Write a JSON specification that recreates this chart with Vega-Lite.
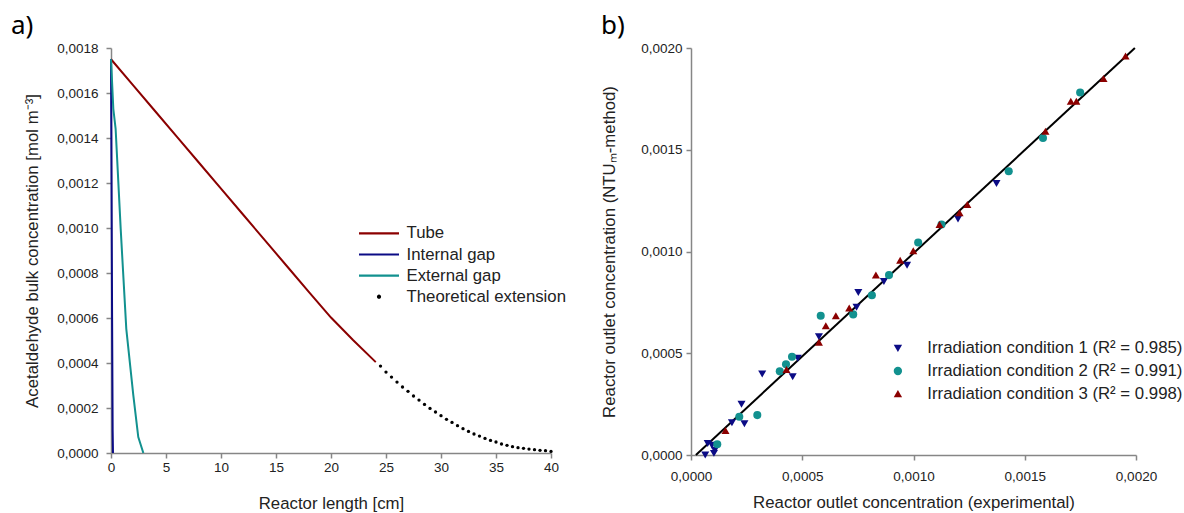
{
  "$schema": "https://vega.github.io/schema/vega-lite/v6.json",
  "padding": {"left": 11, "top": 13, "right": 0, "bottom": 0},
  "spacing": 34,
  "resolve": {
    "scale": {"color": "independent", "shape": "independent"},
    "legend": {"color": "independent", "shape": "independent"}
  },
  "config": {
    "view": {"stroke": null},
    "font": "Liberation Sans",
    "axis": {
      "domainColor": "#868686", "tickColor": "#868686", "tickSize": 5, "grid": false,
      "domainWidth": 1.5, "tickWidth": 1.5, "labelFlush": false,
      "labelFont": "Liberation Sans", "labelFontSize": 13.5, "labelColor": "#222",
      "titleFont": "Liberation Sans", "titleFontSize": 16.8, "titleFontWeight": "normal", "titleColor": "#222"
    },
    "title": {"anchor": "start", "font": "Noto Sans", "fontSize": 26, "fontWeight": "normal", "color": "#000", "frame": "group"}
  },
  "datasets": {
    "profiles": [
      {"series": "Tube", "length": 0, "conc": 0.00175},
      {"series": "Tube", "length": 2, "conc": 0.001635},
      {"series": "Tube", "length": 4, "conc": 0.00152},
      {"series": "Tube", "length": 6, "conc": 0.001405},
      {"series": "Tube", "length": 8, "conc": 0.00129},
      {"series": "Tube", "length": 10, "conc": 0.001175},
      {"series": "Tube", "length": 12, "conc": 0.00106},
      {"series": "Tube", "length": 14, "conc": 0.000945},
      {"series": "Tube", "length": 16, "conc": 0.00083},
      {"series": "Tube", "length": 18, "conc": 0.000715},
      {"series": "Tube", "length": 20, "conc": 0.000602},
      {"series": "Tube", "length": 22, "conc": 0.000502},
      {"series": "Tube", "length": 24.07, "conc": 0.000404},
      {"series": "Internal gap", "length": 0, "conc": 0.00175},
      {"series": "Internal gap", "length": 0.05, "conc": 0.0012},
      {"series": "Internal gap", "length": 0.1, "conc": 0.0006},
      {"series": "Internal gap", "length": 0.15, "conc": 0.0001},
      {"series": "Internal gap", "length": 0.18, "conc": 0},
      {"series": "External gap", "length": 0, "conc": 0.00175},
      {"series": "External gap", "length": 0.21, "conc": 0.00153},
      {"series": "External gap", "length": 0.42, "conc": 0.001441},
      {"series": "External gap", "length": 0.88, "conc": 0.000997},
      {"series": "External gap", "length": 1.39, "conc": 0.000552},
      {"series": "External gap", "length": 2.03, "conc": 0.000256},
      {"series": "External gap", "length": 2.48, "conc": 0.000071},
      {"series": "External gap", "length": 2.94, "conc": 0},
      {"series": "Theoretical extension", "length": 24.5, "conc": 0.0003865},
      {"series": "Theoretical extension", "length": 25.0, "conc": 0.0003598},
      {"series": "Theoretical extension", "length": 25.5, "conc": 0.0003376},
      {"series": "Theoretical extension", "length": 26.0, "conc": 0.0003154},
      {"series": "Theoretical extension", "length": 26.5, "conc": 0.0002932},
      {"series": "Theoretical extension", "length": 27.0, "conc": 0.0002739},
      {"series": "Theoretical extension", "length": 27.5, "conc": 0.0002532},
      {"series": "Theoretical extension", "length": 28.0, "conc": 0.0002354},
      {"series": "Theoretical extension", "length": 28.5, "conc": 0.0002161},
      {"series": "Theoretical extension", "length": 29.0, "conc": 0.0001983},
      {"series": "Theoretical extension", "length": 29.5, "conc": 0.0001821},
      {"series": "Theoretical extension", "length": 30.0, "conc": 0.0001658},
      {"series": "Theoretical extension", "length": 30.5, "conc": 0.0001495},
      {"series": "Theoretical extension", "length": 31.0, "conc": 0.0001361},
      {"series": "Theoretical extension", "length": 31.5, "conc": 0.0001213},
      {"series": "Theoretical extension", "length": 32.0, "conc": 0.000108},
      {"series": "Theoretical extension", "length": 32.5, "conc": 0.0000961},
      {"series": "Theoretical extension", "length": 33.0, "conc": 0.0000843},
      {"series": "Theoretical extension", "length": 33.5, "conc": 0.0000754},
      {"series": "Theoretical extension", "length": 34.0, "conc": 0.000065},
      {"series": "Theoretical extension", "length": 34.5, "conc": 0.0000561},
      {"series": "Theoretical extension", "length": 35.0, "conc": 0.0000488},
      {"series": "Theoretical extension", "length": 35.5, "conc": 0.0000399},
      {"series": "Theoretical extension", "length": 36.0, "conc": 0.0000339},
      {"series": "Theoretical extension", "length": 36.5, "conc": 0.000028},
      {"series": "Theoretical extension", "length": 37.0, "conc": 0.0000236},
      {"series": "Theoretical extension", "length": 37.5, "conc": 0.0000206},
      {"series": "Theoretical extension", "length": 38.0, "conc": 0.0000176},
      {"series": "Theoretical extension", "length": 38.5, "conc": 0.0000147},
      {"series": "Theoretical extension", "length": 39.0, "conc": 0.0000117},
      {"series": "Theoretical extension", "length": 39.5, "conc": 0.0000102},
      {"series": "Theoretical extension", "length": 40.0, "conc": 0.0000072}
    ],
    "parity": [
      {"exp": 0.000022, "ntu": 0},
      {"exp": 0.001995, "ntu": 0.002}
    ],
    "outlet": [
      {"cond": "Irradiation condition 1 (R² = 0.985)", "exp": 0.000064, "ntu": 0.0},
      {"cond": "Irradiation condition 1 (R² = 0.985)", "exp": 0.000075, "ntu": 0.000057},
      {"cond": "Irradiation condition 1 (R² = 0.985)", "exp": 0.000094, "ntu": 0.000048},
      {"cond": "Irradiation condition 1 (R² = 0.985)", "exp": 0.000103, "ntu": 0.000008},
      {"cond": "Irradiation condition 1 (R² = 0.985)", "exp": 0.000107, "ntu": 0.000023},
      {"cond": "Irradiation condition 1 (R² = 0.985)", "exp": 0.000184, "ntu": 0.000159},
      {"cond": "Irradiation condition 1 (R² = 0.985)", "exp": 0.000227, "ntu": 0.000249},
      {"cond": "Irradiation condition 1 (R² = 0.985)", "exp": 0.00024, "ntu": 0.000153},
      {"cond": "Irradiation condition 1 (R² = 0.985)", "exp": 0.00032, "ntu": 0.000398},
      {"cond": "Irradiation condition 1 (R² = 0.985)", "exp": 0.000457, "ntu": 0.000384},
      {"cond": "Irradiation condition 1 (R² = 0.985)", "exp": 0.00048, "ntu": 0.000476},
      {"cond": "Irradiation condition 1 (R² = 0.985)", "exp": 0.000575, "ntu": 0.000581},
      {"cond": "Irradiation condition 1 (R² = 0.985)", "exp": 0.000744, "ntu": 0.000726},
      {"cond": "Irradiation condition 1 (R² = 0.985)", "exp": 0.000752, "ntu": 0.000799},
      {"cond": "Irradiation condition 1 (R² = 0.985)", "exp": 0.000867, "ntu": 0.000853},
      {"cond": "Irradiation condition 1 (R² = 0.985)", "exp": 0.000971, "ntu": 0.000933},
      {"cond": "Irradiation condition 1 (R² = 0.985)", "exp": 0.0012, "ntu": 0.00116},
      {"cond": "Irradiation condition 1 (R² = 0.985)", "exp": 0.001373, "ntu": 0.001334},
      {"cond": "Irradiation condition 2 (R² = 0.991)", "exp": 0.000118, "ntu": 0.000053},
      {"cond": "Irradiation condition 2 (R² = 0.991)", "exp": 0.000217, "ntu": 0.000188},
      {"cond": "Irradiation condition 2 (R² = 0.991)", "exp": 0.000298, "ntu": 0.000196},
      {"cond": "Irradiation condition 2 (R² = 0.991)", "exp": 0.000399, "ntu": 0.000411},
      {"cond": "Irradiation condition 2 (R² = 0.991)", "exp": 0.000427, "ntu": 0.000446},
      {"cond": "Irradiation condition 2 (R² = 0.991)", "exp": 0.000454, "ntu": 0.000483},
      {"cond": "Irradiation condition 2 (R² = 0.991)", "exp": 0.000583, "ntu": 0.000684},
      {"cond": "Irradiation condition 2 (R² = 0.991)", "exp": 0.000729, "ntu": 0.000691},
      {"cond": "Irradiation condition 2 (R² = 0.991)", "exp": 0.000813, "ntu": 0.000785},
      {"cond": "Irradiation condition 2 (R² = 0.991)", "exp": 0.00089, "ntu": 0.000884},
      {"cond": "Irradiation condition 2 (R² = 0.991)", "exp": 0.001021, "ntu": 0.001044},
      {"cond": "Irradiation condition 2 (R² = 0.991)", "exp": 0.001126, "ntu": 0.001133},
      {"cond": "Irradiation condition 2 (R² = 0.991)", "exp": 0.001428, "ntu": 0.001394},
      {"cond": "Irradiation condition 2 (R² = 0.991)", "exp": 0.001582, "ntu": 0.001558},
      {"cond": "Irradiation condition 2 (R² = 0.991)", "exp": 0.001749, "ntu": 0.001781},
      {"cond": "Irradiation condition 3 (R² = 0.998)", "exp": 0.000155, "ntu": 0.00012},
      {"cond": "Irradiation condition 3 (R² = 0.998)", "exp": 0.000429, "ntu": 0.00042},
      {"cond": "Irradiation condition 3 (R² = 0.998)", "exp": 0.000575, "ntu": 0.000554},
      {"cond": "Irradiation condition 3 (R² = 0.998)", "exp": 0.000606, "ntu": 0.000635},
      {"cond": "Irradiation condition 3 (R² = 0.998)", "exp": 0.000651, "ntu": 0.000684},
      {"cond": "Irradiation condition 3 (R² = 0.998)", "exp": 0.000711, "ntu": 0.000722},
      {"cond": "Irradiation condition 3 (R² = 0.998)", "exp": 0.000831, "ntu": 0.000884},
      {"cond": "Irradiation condition 3 (R² = 0.998)", "exp": 0.00094, "ntu": 0.000957},
      {"cond": "Irradiation condition 3 (R² = 0.998)", "exp": 0.000999, "ntu": 0.001004},
      {"cond": "Irradiation condition 3 (R² = 0.998)", "exp": 0.001117, "ntu": 0.001133},
      {"cond": "Irradiation condition 3 (R² = 0.998)", "exp": 0.001207, "ntu": 0.00119},
      {"cond": "Irradiation condition 3 (R² = 0.998)", "exp": 0.001242, "ntu": 0.001231},
      {"cond": "Irradiation condition 3 (R² = 0.998)", "exp": 0.001593, "ntu": 0.001591},
      {"cond": "Irradiation condition 3 (R² = 0.998)", "exp": 0.001707, "ntu": 0.001738},
      {"cond": "Irradiation condition 3 (R² = 0.998)", "exp": 0.001732, "ntu": 0.001738},
      {"cond": "Irradiation condition 3 (R² = 0.998)", "exp": 0.001854, "ntu": 0.00185},
      {"cond": "Irradiation condition 3 (R² = 0.998)", "exp": 0.001953, "ntu": 0.001961}
    ]
  },
  "hconcat": [
    {
      "width": 440,
      "height": 405,
      "title": {"text": "a)", "dx": -100, "offset": 2},
      "layer": [
        {
          "data": {"name": "profiles"},
          "transform": [{"filter": "datum.series !== 'Theoretical extension'"}],
          "mark": {"type": "line", "strokeWidth": 2},
          "encoding": {
            "x": {
              "field": "length", "type": "quantitative",
              "scale": {"domain": [0, 40], "nice": false, "zero": false},
              "axis": {"values": [0, 5, 10, 15, 20, 25, 30, 35, 40], "title": "Reactor length [cm]", "labelPadding": 2, "titlePadding": 22}
            },
            "y": {
              "field": "conc", "type": "quantitative",
              "scale": {"domain": [0, 0.0018], "nice": false},
              "axis": {
                "values": [0, 0.0002, 0.0004, 0.0006, 0.0008, 0.001, 0.0012, 0.0014, 0.0016, 0.0018],
                "labelExpr": "replace(format(datum.value, '.4f'), '.', ',')",
                "title": "Acetaldehyde bulk concentration [mol m⁻³]",
                "labelPadding": 8, "titlePadding": 15
              }
            },
            "color": {
              "field": "series", "type": "nominal",
              "scale": {"domain": ["Tube", "Internal gap", "External gap", "Theoretical extension"], "range": ["#8B0000", "#0B0B85", "#12918F", "#000000"]},
              "legend": {
                "title": null, "orient": "none", "legendX": 246.5, "legendY": 177,
                "symbolType": "stroke", "symbolSize": 1600, "symbolStrokeWidth": 2.2,
                "clipHeight": 16.8, "rowPadding": 3.1, "labelOffset": 6,
                "labelFontSize": 16.8, "labelFont": "Liberation Sans", "labelColor": "#222",
                "encode": {
                  "symbols": {
                    "update": {
                      "shape": {"signal": "datum.value === 'Theoretical extension' ? 'M-0.05,0A0.05,0.05,0,1,1,0.05,0A0.05,0.05,0,1,1,-0.05,0Z' : 'stroke'"},
                      "fill": {"signal": "datum.value === 'Theoretical extension' ? '#000000' : 'transparent'"}
                    }
                  }
                }
              }
            }
          }
        },
        {
          "data": {"name": "profiles"},
          "transform": [{"filter": "datum.series === 'Theoretical extension'"}],
          "mark": {"type": "point", "filled": true, "size": 11, "opacity": 1},
          "encoding": {
            "x": {"field": "length", "type": "quantitative"},
            "y": {"field": "conc", "type": "quantitative"},
            "color": {"field": "series", "type": "nominal"}
          }
        }
      ]
    },
    {
      "width": 445,
      "height": 407,
      "title": {"text": "b)", "dx": -90, "offset": 2},
      "layer": [
        {
          "data": {"name": "parity"},
          "mark": {"type": "line", "color": "#000000", "strokeWidth": 2},
          "encoding": {
            "x": {
              "field": "exp", "type": "quantitative",
              "scale": {"domain": [0, 0.002], "nice": false},
              "axis": {
                "values": [0, 0.0005, 0.001, 0.0015, 0.002],
                "labelExpr": "replace(format(datum.value, '.4f'), '.', ',')",
                "title": "Reactor outlet concentration (experimental)",
                "labelPadding": 9, "titlePadding": 12
              }
            },
            "y": {
              "field": "ntu", "type": "quantitative",
              "scale": {"domain": [0, 0.002], "nice": false},
              "axis": {
                "values": [0, 0.0005, 0.001, 0.0015, 0.002],
                "labelExpr": "replace(format(datum.value, '.4f'), '.', ',')",
                "title": "Reactor outlet concentration (NTUₘ-method)",
                "labelPadding": 4, "titlePadding": 22
              }
            }
          }
        },
        {
          "data": {"name": "outlet"},
          "mark": {"type": "point", "filled": true, "size": 65, "opacity": 1},
          "encoding": {
            "x": {"field": "exp", "type": "quantitative"},
            "y": {"field": "ntu", "type": "quantitative"},
            "color": {
              "field": "cond", "type": "nominal",
              "scale": {"domain": ["Irradiation condition 1 (R² = 0.985)", "Irradiation condition 2 (R² = 0.991)", "Irradiation condition 3 (R² = 0.998)"], "range": ["#0B0B85", "#12918F", "#8B0000"]},
              "legend": {
                "title": null, "orient": "none", "legendX": 198.5, "legendY": 292,
                "symbolSize": 70, "symbolStrokeWidth": 0, "rowPadding": 4.6, "labelOffset": 21, "labelLimit": 400,
                "labelFontSize": 16.8, "labelFont": "Liberation Sans", "labelColor": "#222"
              }
            },
            "shape": {
              "field": "cond", "type": "nominal",
              "scale": {"domain": ["Irradiation condition 1 (R² = 0.985)", "Irradiation condition 2 (R² = 0.991)", "Irradiation condition 3 (R² = 0.998)"], "range": ["triangle-down", "circle", "triangle-up"]},
              "legend": {
                "title": null, "orient": "none", "legendX": 198.5, "legendY": 292,
                "symbolSize": 70, "symbolStrokeWidth": 0, "rowPadding": 4.6, "labelOffset": 21, "labelLimit": 400,
                "labelFontSize": 16.8, "labelFont": "Liberation Sans", "labelColor": "#222"
              }
            }
          }
        }
      ]
    }
  ]
}
